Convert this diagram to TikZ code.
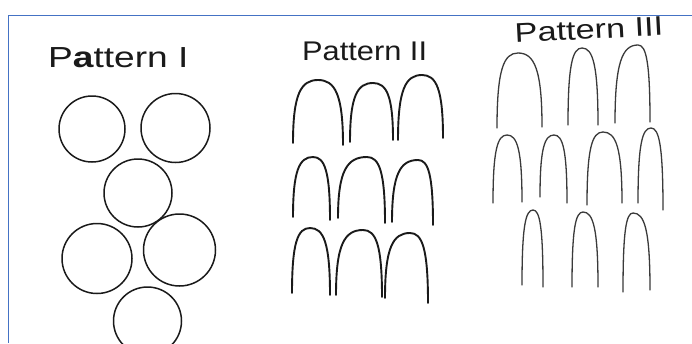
\documentclass[tikz,border=0pt]{standalone}
\usepackage{fontspec}
\setmainfont{Liberation Sans}
\usepackage{graphicx}
\definecolor{framblue}{HTML}{4472C4}
\definecolor{inkA}{HTML}{1A1A1A}
\definecolor{inkC}{HTML}{3A3A3A}
\newcommand\archx[6]{%
  \draw (#1,#2) .. controls (#1,{#2-0.78*(#2-#4)}) and ({#3-0.68*(#3-#1)},#4) .. (#3,#4)
        .. controls ({#3+0.68*(#5-#3)},#4) and (#5,{#6-0.78*(#6-#4)}) .. (#5,#6);}
\begin{document}
\begin{tikzpicture}[x=1pt,y=-1pt,
  title/.style={inner sep=0pt,anchor=base west,font=\fontsize{29}{30}\selectfont,text=inkA},
  circ/.style={draw=inkA,line width=1.5pt},
  archB/.style={draw=inkA,line width=1.9pt,line cap=round},
  archC/.style={draw=inkC,line width=1.3pt,line cap=round},
  framestyle/.style={draw=framblue,line width=1.9pt}]
\useasboundingbox (0,0) rectangle (692,343);
\fill[white] (0,0) rectangle (692,343);
% frame
\draw[framestyle] (692,15.5) -- (8.5,15.5) -- (8.5,343);
% titles
\node[title] (t1) at (48,67) {\scalebox{1.28}[1]{P{\bfseries a}ttern I}};
\node[title,font=\fontsize{27}{28}\selectfont] (t2) at (302,60) {\scalebox{1.14}[1]{Pattern II}};
\node[title,font=\fontsize{27}{28}\selectfont,rotate=3] (t3) at (515,43) {\scalebox{1.27}[1]{Pattern III}};
% Pattern I circles
\draw[circ] (92,129) circle[radius=33pt];
\draw[circ] (175.5,128) circle[radius=34.5pt];
\draw[circ] (138,193) circle[radius=34pt];
\draw[circ] (97,258.5) circle[radius=35pt];
\draw[circ] (179.5,250) circle[radius=36pt];
\draw[circ] (147.5,321) circle[radius=34pt];
% Pattern II arches
\begin{scope}[archB]
\archx{293}{143}{318}{80}{343}{145}
\archx{350}{142}{373}{83}{393}{140}
\archx{398}{140}{422}{75}{443}{138}
\archx{293}{217}{313}{157}{330}{220}
\archx{338}{218}{367}{157}{385}{223}
\archx{392}{222}{418}{160}{433}{225}
\archx{292}{293}{310}{228}{330}{295}
\archx{336}{295}{363}{230}{382}{297}
\archx{385}{298}{410}{233}{428}{303}
\end{scope}
% Pattern III arches
\begin{scope}[archC]
\archx{497}{128}{518}{53}{542}{127}
\archx{568}{125}{582}{48}{598}{125}
\archx{615}{123}{638}{45}{650}{122}
\archx{493}{203}{507}{135}{522}{202}
\archx{540}{197}{554}{135}{567}{203}
\archx{587}{205}{603}{132}{622}{203}
\archx{638}{203}{651}{128}{663}{210}
\archx{522}{285}{533}{210}{543}{287}
\archx{572}{287}{583}{212}{598}{287}
\archx{623}{292}{633}{213}{650}{290}
\end{scope}
\end{tikzpicture}
\end{document}
